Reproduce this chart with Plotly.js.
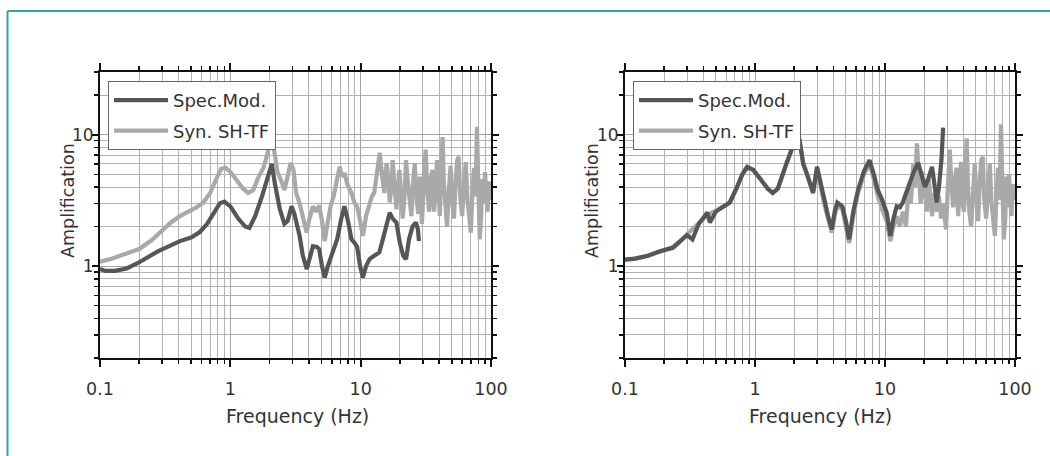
<!DOCTYPE html>
<html><head><meta charset="utf-8">
<script src="https://cdn.plot.ly/plotly-3.0.1.min.js"></script>
<style>html,body{margin:0;padding:0;background:#fff}#chart{width:1050px;height:456px}</style>
</head><body><div id="chart"></div>
<script>
// ---- Left panel data ----
const specFreqL = [0.10,0.11,0.13,0.16,0.20,0.24,0.28,0.33,0.41,0.50,0.58,0.66,0.75,0.83,0.90,1.00,1.15,1.30,1.40,1.55,1.75,1.95,2.08,2.2,2.4,2.6,2.75,2.95,3.1,3.4,3.6,3.86,4.1,4.3,4.6,4.8,5.05,5.3,5.6,6.1,6.6,7.1,7.5,8.0,8.5,9.0,9.4,9.9,10.4,11.0,11.7,12.7,13.9,14.8,15.7,16.7,17.6,18.8,20.0,21.2,22.3,23.5,25.0,26.5,27.5,28.0];
const specAmpL  = [0.95,0.92,0.92,0.96,1.07,1.20,1.30,1.40,1.55,1.65,1.81,2.08,2.6,3.0,3.1,2.85,2.3,2.0,1.95,2.4,3.4,4.8,6.0,4.2,2.7,2.1,2.2,2.85,2.5,1.7,1.2,0.95,1.2,1.42,1.4,1.35,1.0,0.82,1.0,1.27,1.6,2.3,2.85,2.2,1.6,1.5,1.4,1.0,0.82,1.0,1.13,1.2,1.27,1.6,2.0,2.55,2.3,2.15,1.5,1.2,1.13,1.6,2.0,2.15,1.9,1.55];
const synFreqL = [0.10,0.12,0.15,0.20,0.25,0.30,0.35,0.41,0.48,0.55,0.62,0.70,0.78,0.85,0.92,1.00,1.10,1.25,1.37,1.50,1.65,1.80,1.95,2.05,2.15,2.30,2.45,2.60,2.75,2.90,3.05,3.20,3.40,3.60,3.85,4.05,4.30,4.55,4.80,5.05,5.30,5.60,5.90,6.20,6.50,6.90,7.20,7.50,7.90,8.50,9.00,9.40,9.90,10.4,11.0,11.7,12.2,12.7,13.3,14.0,14.7,15.2,15.8,16.3,16.7,17.2,17.6,18.2,18.8,19.3,19.8,20.4,21.0,21.7,22.3,23.0,23.7,24.5,25.3,26.0,26.8,27.6,28.5,29.5,30.5,31.5,32.5,33.5,34.5,35.5,36.5,37.5,38.5,39.5,40.5,41.5,42.5,43.5,44.5,46.0,47.5,49.0,50.5,52.0,53.5,55.0,56.5,58.0,60.0,62.0,64.0,66.0,68.0,70.0,72.0,74.0,76.0,78.0,80.0,82.0,84.0,86.0,88.0,90.0,92.0,94.0,96.0,98.0,100];
const synAmpL  = [1.08,1.13,1.22,1.35,1.58,1.85,2.15,2.4,2.6,2.8,3.05,3.6,4.6,5.5,5.6,5.2,4.6,3.9,3.6,3.8,4.8,5.6,7.5,10.0,8.0,5.2,4.5,3.8,4.8,6.1,5.4,3.6,3.0,2.4,1.8,2.3,2.85,2.6,2.9,2.2,1.55,2.2,2.9,3.4,4.4,5.7,4.8,5.1,4.2,3.6,3.0,2.85,2.2,1.7,2.4,3.05,3.4,3.6,4.8,7.3,4.6,3.6,6.1,4.8,3.05,3.9,6.4,4.0,2.7,3.8,5.4,3.6,2.3,3.4,6.4,4.4,3.05,2.4,4.5,6.0,3.4,2.5,4.8,2.1,4.2,7.7,3.8,2.6,4.6,5.4,2.6,3.5,6.4,3.2,2.4,5.6,9.6,4.2,2.8,2.0,3.8,5.8,3.0,2.3,4.4,6.4,6.8,3.4,2.4,4.6,6.2,3.2,2.2,1.8,3.6,5.6,3.4,11.5,4.0,1.6,2.4,4.6,3.0,5.2,3.6,2.6,4.4,3.4,3.2];

// ---- Right panel data ----
const specFreqR = [0.10,0.12,0.15,0.186,0.234,0.27,0.30,0.33,0.37,0.43,0.45,0.50,0.57,0.64,0.72,0.80,0.87,0.97,1.1,1.25,1.37,1.5,1.75,1.95,2.1,2.2,2.35,2.5,2.8,3.0,3.2,3.4,3.65,3.9,4.1,4.3,4.7,5.0,5.3,5.7,6.2,6.9,7.6,8.2,8.8,9.5,10.3,11.0,11.6,12.3,13.0,13.7,14.5,15.5,16.5,18.0,19.2,20.3,21.5,23.0,24.0,25.0,26.0,27.2,28.0];
const specAmpR  = [1.12,1.14,1.2,1.3,1.38,1.55,1.72,1.6,2.1,2.56,2.15,2.6,2.85,3.05,3.9,5.0,5.7,5.4,4.6,3.9,3.6,3.9,6.1,8.0,9.8,9.2,6.0,5.1,3.6,5.7,4.2,3.2,2.4,1.9,2.6,3.05,2.85,2.2,1.6,2.6,3.8,5.3,6.4,5.0,3.8,3.2,2.56,1.7,2.3,2.85,2.8,3.05,3.6,4.4,5.1,6.1,5.0,4.0,4.6,5.7,4.2,3.05,4.0,6.5,11.3];
const synFreqR = [0.10,0.12,0.15,0.186,0.234,0.27,0.30,0.34,0.38,0.43,0.50,0.57,0.64,0.72,0.80,0.87,0.97,1.1,1.25,1.37,1.5,1.75,1.95,2.1,2.2,2.35,2.5,2.8,3.0,3.2,3.4,3.65,3.9,4.1,4.3,4.7,5.0,5.3,5.7,6.2,6.9,7.6,8.2,8.8,9.5,10.3,11.0,11.6,12.3,13.0,13.7,14.5,15.2,15.8,16.5,17.0,17.6,18.2,18.8,19.5,20.3,21.0,21.7,22.3,23.0,24.0,25.0,26.0,27.0,28.0,29.5,30.5,31.5,32.5,33.5,34.5,35.5,36.5,37.5,38.5,39.5,40.5,41.5,42.5,43.5,44.5,46.0,47.5,49.0,50.5,52.0,53.5,55.0,56.5,58.0,60.0,62.0,64.0,66.0,68.0,70.0,72.0,74.0,76.0,78.0,80.0,82.0,84.0,86.0,88.0,90.0,92.0,94.0,96.0,98.0,100];
const synAmpR  = [1.12,1.14,1.2,1.3,1.4,1.58,1.75,1.95,2.2,2.45,2.65,2.85,3.05,3.9,5.0,5.6,5.4,4.6,3.9,3.6,3.9,6.0,8.2,10.0,9.0,6.0,5.0,3.7,5.5,4.0,3.0,2.3,1.8,2.4,2.9,2.7,2.0,1.5,2.4,3.6,5.0,6.0,4.6,3.4,2.7,2.2,1.55,2.0,2.4,2.0,2.6,2.0,4.0,3.0,6.0,4.0,8.6,4.4,3.0,5.2,3.4,2.6,4.6,3.0,2.4,3.6,2.6,3.4,2.3,3.0,1.9,4.2,7.7,4.0,2.8,4.5,5.6,2.4,3.6,6.2,3.0,2.6,5.8,9.4,4.0,2.6,2.0,3.6,6.0,3.2,2.2,4.4,6.4,6.8,3.2,2.3,4.4,6.0,3.0,2.0,1.7,3.4,5.6,3.2,12.0,4.2,1.6,2.2,4.8,2.8,5.0,3.4,2.4,4.2,3.6,3.2];

const seriesNames = ['Spec.Mod.', 'Syn. SH-TF'];
const xTitle = 'Frequency (Hz)';
const yTitle = 'Amplification';

const darkC = '#565656', lightC = '#a9a9a9';
const FONT = 'DejaVu Sans, sans-serif';
const TXT = '#333';

function tr(x, y, name, color, xa, ya, leg, rank, group) {
  return {x, y, name, type: 'scatter', mode: 'lines', xaxis: xa, yaxis: ya,
    line: {color, width: 4.2}, legend: leg, legendrank: rank, legendgroup: group};
}
const data = [
  tr(synFreqL, synAmpL, seriesNames[1], lightC, 'x', 'y', 'legend', 2, 'a2'),
  tr(specFreqL, specAmpL, seriesNames[0], darkC, 'x', 'y', 'legend', 1, 'a1'),
  tr(synFreqR, synAmpR, seriesNames[1], lightC, 'x2', 'y2', 'legend2', 2, 'b2'),
  tr(specFreqR, specAmpR, seriesNames[0], darkC, 'x2', 'y2', 'legend2', 1, 'b1'),
];

const W = 1050, H = 456;
const yDom = [(H - 358) / H, (H - 72) / H];
const minorCfg = {dtick: 'D1', ticks: 'outside', ticklen: 4, tickwidth: 1.5, tickcolor: '#111', showgrid: true, gridcolor: '#b2b2b2', gridwidth: 1};
function xax(dom, anchor) {
  return {type: 'log', range: [-1, 2], domain: dom, anchor,
    dtick: 1, tick0: 0, ticks: 'outside', ticklen: 7, tickwidth: 2, tickcolor: '#111',
    showline: true, linecolor: '#111', linewidth: 2, mirror: 'allticks',
    showgrid: true, gridcolor: '#a4a4a4', gridwidth: 1,
    minor: minorCfg, ticklabelstandoff: 7,
    tickfont: {family: FONT, size: 17.5, color: TXT},
    zeroline: false, automargin: false};
}
function yax(anchor) {
  return {type: 'log', range: [Math.log10(0.2), Math.log10(30)], domain: yDom, anchor,
    dtick: 1, tick0: 0, ticks: 'outside', ticklen: 6, tickwidth: 2, tickcolor: '#111',
    showline: true, linecolor: '#111', linewidth: 2, mirror: 'allticks',
    showgrid: true, gridcolor: '#a4a4a4', gridwidth: 1,
    minor: minorCfg, ticklabelstandoff: -5,
    tickfont: {family: FONT, size: 17, color: TXT},
    zeroline: false, automargin: false};
}
function leg(x) {
  return {x: x / W, y: 1 - 81 / H, xanchor: 'left', yanchor: 'top', xref: 'paper', yref: 'paper',
    bgcolor: '#fff', bordercolor: '#666', borderwidth: 1, itemwidth: 54,
    font: {family: FONT, size: 18, color: TXT}, traceorder: 'grouped', tracegroupgap: 4};
}
function ann(text, xpx, ypx, rot, size) {
  return {text, x: xpx / W, y: 1 - ypx / H, xref: 'paper', yref: 'paper', showarrow: false,
    xanchor: 'center', yanchor: 'middle', textangle: rot,
    font: {family: FONT, size, color: TXT}};
}
const layout = {
  width: W, height: H, margin: {l: 0, r: 0, t: 0, b: 0},
  paper_bgcolor: '#fff', plot_bgcolor: '#fff', showlegend: true,
  xaxis: xax([100 / W, 491 / W], 'y'),
  yaxis: yax('x'),
  xaxis2: xax([625 / W, 1015 / W], 'y2'),
  yaxis2: yax('x2'),
  legend: leg(108),
  legend2: leg(633),
  annotations: [
    ann(xTitle, 297, 416, 0, 19),
    ann(xTitle, 820, 416, 0, 19),
    ann(yTitle, 68, 201, -90, 17.5),
    ann(yTitle, 592, 201, -90, 17.5)
  ],
  shapes: [
    {type: 'line', xref: 'paper', yref: 'paper', x0: 7.5 / W, x1: 7.5 / W, y0: -0.05, y1: 1 - 11 / H, line: {color: '#2fa898', width: 2}},
    {type: 'line', xref: 'paper', yref: 'paper', x0: 7.5 / W, x1: 1.05, y0: 1 - 11 / H, y1: 1 - 11 / H, line: {color: '#2fa898', width: 2}}
  ]
};
Plotly.newPlot('chart', data, layout, {staticPlot: true, displayModeBar: false});
</script></body></html>
